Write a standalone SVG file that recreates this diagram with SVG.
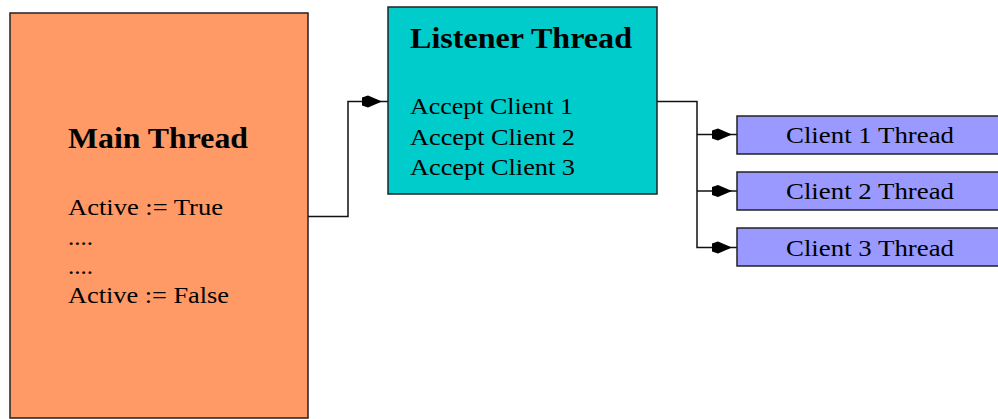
<svg xmlns="http://www.w3.org/2000/svg" width="998" height="419" viewBox="0 0 998 419">
  <defs>
    <style>
      .box { stroke: #222; stroke-width: 1.5; }
      .main { fill: #FF9966; }
      .listener { fill: #00CCCC; }
      .client { fill: #9999FF; }
      .title { font-family: "Liberation Serif", "Times New Roman", serif; font-weight: bold; font-size: 29px; fill: #000; }
      .body { font-family: "Liberation Serif", "Times New Roman", serif; font-size: 24px; fill: #000; }
      .wire { fill: none; stroke: #111; stroke-width: 1.5; }
      .head { fill: #000; }
    </style>
    <!-- filled arrowhead, tip at origin pointing right -->
    <path id="arrowhead" class="head" d="M-20,-4 L-14,-6 L0,0 L-14,6 L-20,4 Z"/>
  </defs>

  <rect width="998" height="419" fill="#fff"/>

  <g id="connectors">
    <path class="wire" d="M308,216.5 H348 V101.5 H388"/>
    <use href="#arrowhead" transform="translate(382,101.5)"/>
    <path class="wire" d="M657,101.5 H697 V247.5 H737 M697,134.5 H737 M697,191 H737"/>
    <use href="#arrowhead" transform="translate(732,134.5)"/>
    <use href="#arrowhead" transform="translate(732,191)"/>
    <use href="#arrowhead" transform="translate(732,247.5)"/>
  </g>

  <g id="main-thread">
    <rect class="box main" x="10" y="13" width="298" height="405"/>
    <text class="title" x="68" y="148" textLength="180" lengthAdjust="spacingAndGlyphs">Main Thread</text>
    <text class="body" x="68" y="215" textLength="155" lengthAdjust="spacingAndGlyphs">Active := True</text>
    <text class="body" x="68" y="245" textLength="25" lengthAdjust="spacingAndGlyphs">....</text>
    <text class="body" x="68" y="274" textLength="25" lengthAdjust="spacingAndGlyphs">....</text>
    <text class="body" x="68" y="303" textLength="161" lengthAdjust="spacingAndGlyphs">Active := False</text>
  </g>

  <g id="listener-thread">
    <rect class="box listener" x="388" y="7" width="269" height="187"/>
    <text class="title" x="410" y="48" textLength="222" lengthAdjust="spacingAndGlyphs">Listener Thread</text>
    <text class="body" x="410" y="114" textLength="163" lengthAdjust="spacingAndGlyphs">Accept Client 1</text>
    <text class="body" x="410" y="145" textLength="165" lengthAdjust="spacingAndGlyphs">Accept Client 2</text>
    <text class="body" x="410" y="175" textLength="165" lengthAdjust="spacingAndGlyphs">Accept Client 3</text>
  </g>

  <g id="client-1-thread">
    <rect class="box client" x="737" y="116" width="270" height="38"/>
    <text class="body" x="786" y="143" textLength="168" lengthAdjust="spacingAndGlyphs">Client 1 Thread</text>
  </g>

  <g id="client-2-thread">
    <rect class="box client" x="737" y="172" width="270" height="38"/>
    <text class="body" x="786" y="199" textLength="168" lengthAdjust="spacingAndGlyphs">Client 2 Thread</text>
  </g>

  <g id="client-3-thread">
    <rect class="box client" x="737" y="228" width="270" height="38"/>
    <text class="body" x="786" y="256" textLength="168" lengthAdjust="spacingAndGlyphs">Client 3 Thread</text>
  </g>
</svg>
